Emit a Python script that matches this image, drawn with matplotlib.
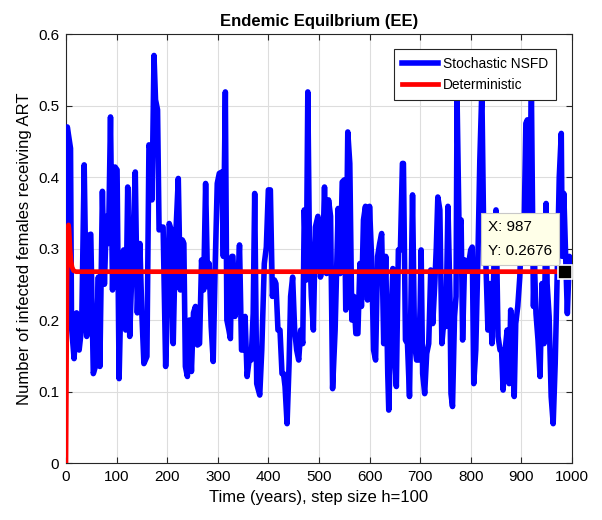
import matplotlib
matplotlib.use("Agg")
import matplotlib.pyplot as plt

plt.rcParams['font.family'] = ['Liberation Sans', 'DejaVu Sans']

# Stochastic NSFD series (time, value)
t_sto = [0, 2.6, 9, 11, 16, 21, 26, 31, 36, 41, 46, 49, 54, 59, 64, 67, 72, 76, 80, 84, 88, 92, 97, 101,
         105, 110, 114, 118, 122, 126, 131, 137, 141, 146, 150, 154, 160, 164,
         166, 170, 174, 177, 181, 184, 188, 192, 197, 201, 204, 208, 212, 216, 222, 226, 230, 233, 236,
         240, 244, 248, 252, 256, 260, 264, 268, 272, 276, 280, 283, 287, 291, 295, 299, 303, 308, 311,
         315, 318, 322, 325, 328,
         330, 334, 338, 343, 347, 351, 354, 358, 362, 366, 370, 373, 377, 383, 387, 392, 396, 400, 404,
         408, 412, 415, 419, 423, 427, 430, 433, 437, 441, 444, 448, 452, 456, 460, 464, 468, 471, 475,
         478, 481, 485, 489, 493, 498,
         503, 507, 511, 515, 519, 523, 527, 532, 536, 538, 542, 546, 550, 553, 557, 561, 565, 569, 573,
         577, 581, 584, 588, 592, 596, 600, 604, 608, 612, 616, 620, 624, 628, 632, 636, 638, 642, 646,
         650, 653, 657, 661, 665,
         667, 671, 675, 679, 683, 685, 689, 693, 697, 700, 702, 705, 709, 713, 717, 721, 725, 729, 732,
         735, 739, 743, 747, 751, 755, 759, 761, 764, 768, 771, 773, 777, 781, 784, 788, 792, 796, 800,
         803, 806, 810, 814, 818, 822, 826, 830, 834,
         838, 842, 846, 850, 854, 858, 861, 864, 868, 872, 876, 879, 883, 886, 889, 893, 897, 901, 905,
         909, 912, 915, 920, 924, 926, 929, 933, 937, 941, 945, 949, 951, 955, 959, 963, 967, 971, 975,
         979, 981, 984, 988, 991, 995, 1000]
y_sto = [0.30, 0.47, 0.44, 0.19, 0.146, 0.21, 0.158, 0.19, 0.417, 0.177, 0.319, 0.32, 0.125, 0.137, 0.26, 0.135, 0.38, 0.25, 0.345, 0.307, 0.484, 0.242, 0.414, 0.41,
         0.118, 0.279, 0.298, 0.186, 0.386, 0.177, 0.284, 0.407, 0.21, 0.307, 0.209, 0.139, 0.149, 0.445,
         0.44, 0.368, 0.57, 0.508, 0.494, 0.326, 0.33, 0.33, 0.135, 0.225, 0.335, 0.326, 0.167, 0.302, 0.398, 0.242, 0.312, 0.307, 0.135,
         0.121, 0.2, 0.128, 0.21, 0.219, 0.165, 0.167, 0.284, 0.242, 0.391, 0.247, 0.279, 0.191, 0.142, 0.279, 0.391, 0.405, 0.407, 0.289,
         0.519, 0.2, 0.186, 0.174, 0.289,
         0.289, 0.205, 0.223, 0.305, 0.158, 0.158, 0.205, 0.121, 0.144, 0.144, 0.209, 0.377, 0.111, 0.095, 0.158, 0.279, 0.302, 0.382, 0.382,
         0.233, 0.256, 0.251, 0.186, 0.186, 0.125, 0.125, 0.107, 0.055, 0.139, 0.233, 0.26, 0.186, 0.158, 0.144, 0.186, 0.167, 0.354, 0.256,
         0.519, 0.317, 0.233, 0.186, 0.33, 0.345,
         0.26, 0.275, 0.386, 0.265, 0.368, 0.345, 0.104, 0.186, 0.298, 0.356, 0.265, 0.393, 0.396, 0.214, 0.463, 0.419, 0.2, 0.233, 0.181,
         0.181, 0.279, 0.219, 0.34, 0.359, 0.228, 0.359, 0.289, 0.158, 0.144, 0.289, 0.307, 0.321, 0.167, 0.289, 0.125, 0.074, 0.186, 0.272,
         0.149, 0.107, 0.298, 0.298, 0.419,
         0.419, 0.172, 0.167, 0.093, 0.279, 0.375, 0.167, 0.144, 0.144, 0.219, 0.298, 0.125, 0.097, 0.153, 0.167, 0.27, 0.195, 0.251, 0.302,
         0.372, 0.354, 0.167, 0.2, 0.191, 0.359, 0.233, 0.097, 0.079, 0.205, 0.233, 0.512, 0.326, 0.34, 0.172, 0.284, 0.27, 0.279, 0.298,
         0.302, 0.111, 0.158, 0.279, 0.424, 0.522, 0.302, 0.279, 0.186,
         0.251, 0.167, 0.279, 0.354, 0.177, 0.158, 0.158, 0.102, 0.158, 0.186, 0.111, 0.214, 0.139, 0.093, 0.195, 0.219, 0.26, 0.335, 0.307,
         0.475, 0.48, 0.307, 0.517, 0.219, 0.279, 0.209, 0.172, 0.121, 0.251, 0.167, 0.363, 0.251, 0.205, 0.093, 0.055, 0.139, 0.265, 0.40,
         0.461, 0.289, 0.377, 0.279, 0.209, 0.289, 0.284]

# Deterministic series
t_det = [0, 1, 2, 3, 4, 5, 6, 7, 8, 10, 12, 15, 20, 1000]
y_det = [0, 0.12, 0.25, 0.31, 0.33, 0.333, 0.328, 0.315, 0.30, 0.283, 0.274, 0.269, 0.2676, 0.2676]

tip_x = 987
tip_y = 0.2676

xticks = list(range(0, 1001, 100))
yticks = [0, 0.1, 0.2, 0.3, 0.4, 0.5, 0.6]
ytick_labels = ['0', '0.1', '0.2', '0.3', '0.4', '0.5', '0.6']

fig = plt.figure(figsize=(6.02, 5.20), dpi=100)
ax = fig.add_axes([0.1096, 0.1096, 0.8404, 0.825])

ax.plot(t_sto, y_sto, color='#0000FF', lw=4.0, label='Stochastic NSFD', zorder=3)
ax.plot(t_det, y_det, color='#FF0000', lw=3.4, label='Deterministic', zorder=4)

ax.set_xlim(0, 1000)
ax.set_ylim(0, 0.6)
ax.set_xticks(xticks)
ax.set_yticks(yticks)
ax.set_yticklabels(ytick_labels)
ax.tick_params(direction='in', top=True, right=True, labelsize=11, length=4, color='#262626', pad=5)
ax.grid(True, color='#DDDDDD', lw=0.8)
ax.set_axisbelow(True)
for s in ax.spines.values():
    s.set_color('#262626')
    s.set_linewidth(0.8)

ax.set_title('Endemic Equilbrium (EE)', fontsize=12, fontweight='bold', pad=6)
ax.set_xlabel('Time (years), step size h=100', fontsize=12)
ax.set_ylabel('Number of infected females receiving ART', fontsize=12)

leg = ax.legend(loc='upper right', bbox_to_anchor=(0.968, 0.965), fontsize=9.9, fancybox=False,
                framealpha=1, edgecolor='#262626', handlelength=2.6, handletextpad=0.4,
                borderpad=0.55, labelspacing=0.55, borderaxespad=0)
leg.get_frame().set_linewidth(0.8)

# data tip
ax.plot([tip_x], [tip_y], marker='s', ms=10, color='black', mec='white', mew=1.2, zorder=6)
ax.annotate(f'X: {tip_x}\nY: {tip_y}', xy=(tip_x, tip_y), xytext=(-56, 10), textcoords='offset points',
            fontsize=11, linespacing=1.9, ha='left', va='bottom', zorder=7,
            bbox=dict(boxstyle='square,pad=0.45', fc='#FFFFE8', ec='#C8C8C8', lw=0.8))

fig.savefig('out.png', dpi=100)
